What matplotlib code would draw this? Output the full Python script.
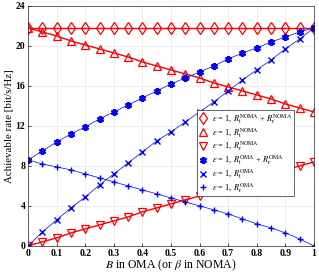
import numpy as np
import matplotlib
matplotlib.use('Agg')
from matplotlib import pyplot as plt

plt.rcParams['font.family'] = 'Liberation Serif'
plt.rcParams['mathtext.fontset'] = 'stix'

x = np.round(np.arange(0, 1.0001, 0.05), 2)

# NOMA
noma_sum = [21.8] * 21
noma_t = [21.8, 21.4, 21.0, 20.5, 20.1, 19.7, 19.3, 18.9, 18.4, 18.0, 17.6,
          17.2, 16.8, 16.3, 15.9, 15.5, 15.1, 14.7, 14.2, 13.8, 13.4]
noma_r = [0.0, 0.4, 0.8, 1.3, 1.7, 2.1, 2.5, 2.9, 3.4, 3.8, 4.2,
          4.6, 5.0, 5.5, 5.9, 6.3, 6.7, 7.1, 7.6, 8.0, 8.4]

# OMA
oma_sum = [8.6, 9.5, 10.4, 11.2, 11.9, 12.7, 13.4, 14.1, 14.8, 15.5, 16.2,
           16.8, 17.4, 18.0, 18.7, 19.3, 19.8, 20.4, 20.9, 21.4, 21.8]
oma_t = [0.0, 1.4, 2.6, 3.8, 4.9, 6.1, 7.2, 8.3, 9.4, 10.5, 11.4,
         12.4, 13.4, 14.4, 15.5, 16.6, 17.6, 18.6, 19.7, 20.7, 21.8]
oma_r = [8.6, 8.2, 7.9, 7.6, 7.2, 6.8, 6.4, 6.0, 5.6, 5.2, 4.8,
         4.4, 4.0, 3.6, 3.2, 2.7, 2.2, 1.8, 1.3, 0.7, 0.0]

fig = plt.figure(figsize=(3.19, 2.72), dpi=100)
ax = fig.add_axes([0.088, 0.096, 0.896, 0.882])

red = '#ff0000'
blue = '#0000ff'
eps = r'$\varepsilon$ = 1, '
ax.plot(x, noma_sum, '-', color=red, lw=1.0, marker='d', ms=6, mfc='none', mew=0.9,
        label=eps + r'$R_{\rm t}^{\rm NOMA}$ + $R_{\rm r}^{\rm NOMA}$')
ax.plot(x, noma_t, '-', color=red, lw=1.0, marker='^', ms=5.5, mfc='none', mew=0.9,
        label=eps + r'$R_{\rm t}^{\rm NOMA}$')
ax.plot(x, noma_r, '-', color=red, lw=1.0, marker='v', ms=5.5, mfc='none', mew=0.9,
        label=eps + r'$R_{\rm r}^{\rm NOMA}$')
ax.plot(x, oma_sum, '-', color=blue, lw=0.5, marker=(6, 2, 0), ms=5, mew=1.6,
        label=eps + r'$R_{\rm t}^{\rm OMA}$ + $R_{\rm r}^{\rm OMA}$')
ax.plot(x, oma_t, '-', color=blue, lw=0.5, marker='x', ms=4, mew=1.0,
        label=eps + r'$R_{\rm t}^{\rm OMA}$')
ax.plot(x, oma_r, '-', color=blue, lw=0.5, marker='+', ms=5, mew=1.0,
        label=eps + r'$R_{\rm r}^{\rm OMA}$')

ax.set_xlim(0, 1)
ax.set_ylim(0, 24)
ax.set_xticks(np.arange(0, 1.01, 0.1))
ax.set_xticklabels(['0', '0.1', '0.2', '0.3', '0.4', '0.5', '0.6', '0.7', '0.8', '0.9', '1'],
                   fontweight='bold', fontsize=7)
ax.set_yticks(np.arange(0, 25, 4))
ax.set_yticklabels([str(v) for v in range(0, 25, 4)], fontweight='bold', fontsize=7)
ax.tick_params(direction='in', length=2, width=0.5, pad=2)
ax.grid(True, color='#e6e6e6', lw=0.5)
for s in ax.spines.values():
    s.set_linewidth(0.5)
    s.set_color('#262626')

ax.set_xlabel(r'$B$ in OMA (or $\beta$ in NOMA)', fontsize=8.5, labelpad=0)
ax.set_ylabel('Achievable rate [bit/s/Hz]', fontsize=7.8, labelpad=1)

leg = ax.legend(loc='upper left', bbox_to_anchor=(0.59, 0.565), fontsize=6,
                frameon=True, fancybox=False, edgecolor='#262626', framealpha=1,
                borderpad=0.2, labelspacing=0.0, handlelength=1.0, handletextpad=0.6,
                borderaxespad=0)
leg.get_frame().set_linewidth(0.5)
for h in leg.get_lines():
    h.set_linestyle('none')

fig.savefig('out.png', dpi=100)
